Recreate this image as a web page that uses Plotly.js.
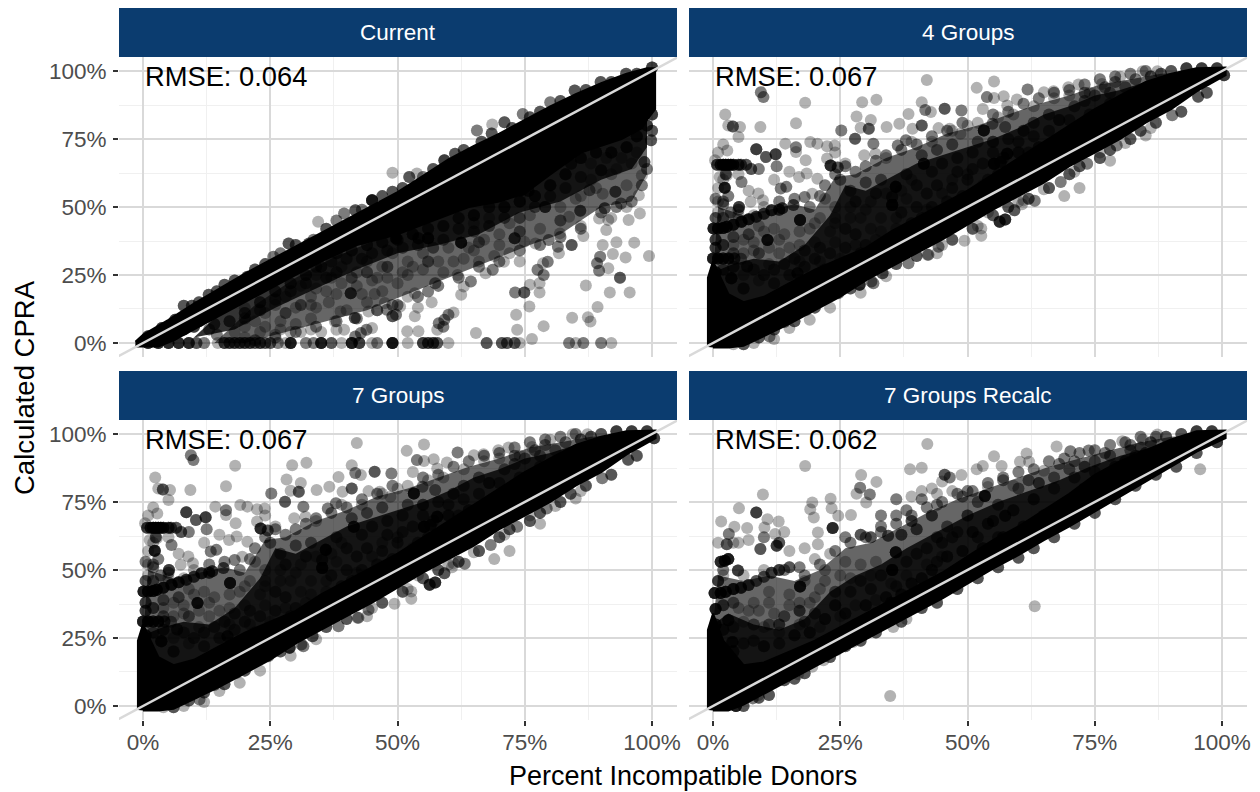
<!DOCTYPE html>
<html><head><meta charset="utf-8">
<script src="https://cdn.plot.ly/plotly-3.0.1.min.js"></script>
<style>html,body{margin:0;padding:0;background:#fff}</style></head>
<body><div id="chart" style="width:1260px;height:792px"></div>
<script>
// All values in percent. [x, y] or [x, y, overplot count].
const panelNames = ['Current','4 Groups','7 Groups','7 Groups Recalc'];
const rmseLabels = ['RMSE: 0.064','RMSE: 0.067','RMSE: 0.067','RMSE: 0.062'];
const tickVals = [0,25,50,75,100];
const tickLabels = ['0%','25%','50%','75%','100%'];
const minorVals = [12.5,37.5,62.5,87.5];
const identityLine = [-6,106];

// Where points overplot into solid black the mass is read as an outline; the haze outlines are the denser clouds
const currentCoreX = [-1.5,0,5,10,20,30,36,40,45,50,55,60,65,70,75,80,85,90,95,99,100.6,100.6,99,98,94,86,80,75,70,64,57,50,42,35,28,20,12,6,3,-1.5];
const currentCoreY = [0.5,3,8.5,14.5,25.5,35.5,41.5,45.5,50.5,55.5,61.5,67.5,72.5,77,82,87,91.5,95.5,99,101,101,86,82,79,75,70,62,55,52,50,45,40,36,30,23,15,7,1,-1.3,-1.3];
const currentHazeX = [10,18,26,34,42,48,56,62,70,78,86,92,99,99,96,90,82,74,66,58,50,42,34,26,18,10];
const currentHazeY = [2,16,25,32,38,42,47,52,55,62,70,75,82,72,64,60,52,48,40,36,33,27,20,13,5,2];
const currentLightX = [14,22,30,38,46,54,62,70,80,90,99,99,96,90,82,76,68,60,52,44,36,28,20,14];
const currentLightY = [0,14,24,32,38,44,50,55,64,74,82,62,52,50,40,36,30,24,18,12,8,4,0,0];
const groupCoreX = [-1,-1,0,1.5,3,6,10,15,20,25,30,35,40,45,50,55,60,65,70,75,80,85,90,95,100.7,100.7,95,90,85,80,75,70,65,60,55,50,45,40,35,30,25,20,15,10,6,3,0];
const groupCoreY = [-1.5,24,30,24,18,15,17,22,27,31,35,41,46,51,56,62,68,74,80,86,91,96,99,101,101.3,98.5,92.5,86,81,75,70,65,59,54,49,43.5,38,33,28,23,17,12,7,2.5,-1,-1.7,-1.7];
const groupHazeX = [0,4,8,13,18,23,26,30,35,40,45,50,55,60,65,70,75,80,85,90,100,90,70,50,30,10,0];
const groupHazeY = [26,29,31,30,36,47,58,56,61,66,69,72,75,79,84,87,91,93,96,99,100,92,72,52,32,12,0];
const groupLightX = [0,1,6,11,16,20,24,28,34,40,46,52,58,64,70,76,82,88,100,90,70,50,30,10,0];
const groupLightY = [25,50,47,49,51,49,61,62,68,72,77,80,84,88,91,95,97,99,100,92,72,52,32,12,0];
const recalcCoreX = [-1,-1,0,2,6,10,15,20,25,30,35,40,45,50,55,60,65,70,75,80,85,90,95,100.7,100.7,95,90,85,80,75,70,65,60,55,50,45,40,35,30,25,20,15,10,6,3,0];
const recalcCoreY = [-1.5,28,34,24,15,16,20,24,29,34,39,44,49,55,61,66,72,78,85,90,94,98,101,101.3,98.5,93.5,88,82.5,77,71.5,66,61,55.5,50.5,45,39.5,34.5,29.5,24.5,19.5,14.5,9.5,4.5,0.5,-1.7,-1.7];
const recalcHazeX = [0,3,8,13,18,23,28,33,38,43,50,56,62,68,74,80,86,92,100,90,70,50,30,10,0];
const recalcHazeY = [30,34,30,28,32,42,48,52,58,63,70,75,79,83,88,92,95,99,100,92,72,52,32,12,0];
const recalcLightX = [0,1,6,11,16,21,26,31,36,42,48,54,60,66,72,78,84,90,100,90,70,50,30,10,0];
const recalcLightY = [30,48,46,48,46,50,58,60,65,71,76,80,84,88,91,94,97,99,100,92,72,52,32,12,0];

const currentPts = [
[99.4,32],[94.8,31.4],[96.5,36.9],[93,37],[92.3,32.7],[90.3,36],[89.2,29.3,2],[89.8,31.7,2],[89.6,26.6,2],[91.4,27.5],[93.7,24,3],[91.7,18.6],[95.6,18.6],[89.3,13.2],[87,21.1],[84.3,9.3],[87.4,9.5],[87.9,7.9],[78.7,6.2],[75.9,13.4],[73.3,10.4],[73.5,4.9],[76.4,1.5],[65.4,3.7],[73.1,18.6,2],[74.9,18.6,3],[77.9,18.6],[76,21.4],[77.9,22],[78.7,25,2],[77.5,26.9,2],[78.6,29.3],[79.5,29.9,2],
[12,0,2],[14.7,0],[16,0,4],[17,0,4],[18,0,4],[19,0,4],[20,0,4],[21,0,4],[22,0,3],[23,0,4],[24,0,3],[25,0,3],[26.5,0,2],[28,0,1],[29,0,6],[32,0,2],[33.5,0,2],[35,0,6],[37,0,3],[39,0,1],[41,0,6],[42.5,0,4],[45,0],[46,0,2],[49,0,7],[52,0],[55,0,4],[56,0,4],[57,0,4],[57.8,0,3],[60,0],[67.5,0,3],[70.5,0,3],[71.5,0,3],[73,0,3],[74,0],[83.7,0,2],[85,0],[86.5,0,2],[90,0,2],[92,0],
[1,0,5],[3,0,5],[5,0,5],[7,0,5],[9,0,5],[10.5,0,3],[2,1,4],[4,2,4],[6,3,4],[8,5,4],[10,6,4],[11,8,3],[13,5,2],[14.5,3,2],
[59,6,2],[57.8,4.9],[58.1,7.3,2],[59.2,8.5,2],[60,10.4,2],[61,11.2],[41.7,2.4,2],[42.8,3.7,2],[43.9,4.9,2],[45,5.5],[38,4.9],[39.5,4.9],[47.9,12.2,2],[49,9.8,3],[49.7,10.4,2],[47.5,14.7],[49,14,2],[50.5,13.4],[53.4,9.8],[51.9,4.3],[54.1,4.3],[41.6,9.2,3],[38.8,11.6],[44.3,11.6],[37.7,7.9],
[53.4,18.3],[56,18.9,2],[56.7,15],[57.4,22,2],[62.5,17.7],[63,20.8],[64.4,22.6,2],[61.8,25],[67.3,25.6],[68.7,26.9,2],[70.9,29.9],
[56,38.5,5],[54.1,38.5,3],[49.7,38.5,4],[62.5,36.9,6],[73,38.5,4],[74.2,56.2,5],[75.7,56,4],[45,52.5,4],[79,50,4],[85.9,48.6,3],[40.8,18.3,4],[84.1,65.9,3],[90,63.5,3],[98.5,66.5,3],[99.8,74.5,3],[98,61.7],[97.4,54.3],[97.6,47.6],[95.4,45.2],[93.9,51.3,2],[92.8,55.6,3],[90.3,54.9],[90.7,49.5,3],[89.6,45.8],[91.4,45.2],[91,41.5],[87.7,56.2,2],[86,54],[83.7,46.4],[81.9,40.3],[79.7,37.9,2],[84.2,36,3],[81.5,35.4,2],[81.7,33],[86.5,39.3],[77.1,36.6],[74.9,37.2],[72,33],[70,36],[67,38],[65,34],[63,31],[60,35],[58,30],[55,33],[52,30],[49,33],[47,28],[44,30],[42,26],[39,28],[37,24],[34,25],[31,21],[28,17],[26,14],[24,11],[22,8],[20,6],[18,4],[27,8],[30,13],[33,17],[36,19],[39,22],[42,21],[45,23],[47,19],[50,22],[52,25],[55,27],[59,26],[61,30],[66,30],[69,32],[74,30],[30,7],[33,9],[34,13],[31,4],[26,3],[23,4],[20,2],[35,4],[45.5,18],[44,15],[52,17],[54,13],[65,44],[68,46],[72,44],[76,47],[70,40],[78,42],[82,50],[85,53],[88,60],[92,62],[95,58],[97,70],[96,66],[94,68],[91,68],[88,66],
[33,5],[36.5,15],[40,12],[48,24],[29.5,28.5],[26,26],[22,20],[20,13],
// upper edge of the band
[1,2.5,4],[3.7,5.5,4],[6.3,8.5,4],[8,13.7,3],[9.6,13.7,3],[11,15,3],[12.9,17.7,3],[14.5,19,3],[16,21.4,3],[18,23,3],[20.5,24.4,3],[22,27,3],[24,29,3],[25.6,31.7,2],[27,33,2],[28.6,36.6,3],[30,36,3],[32.6,36.6,3],[33.5,38,2],[34.4,44.6],[36,42,3],[38,45,2],[39.5,47.6,2],[41.7,48.8,3],[43,49,2],[45,52.5,3],[47,54,3],[49,55.6,3],[49,62.6],[51,57,3],[52.3,61,3],[53.8,62.3],[55,61,2],[57,64,3],[59.2,67.2,4],[61.3,69.6,3],[63,71,3],[65.6,78.1,2],[66.5,74,3],[68.6,80.3],[68.5,77,3],[71,81.2,3],[72.5,79,3],[74.6,84.2,2],[76,83,3],[78,85,3],[80,88.5,2],[82,89,3],[84.8,92.8,3],[87,93,3],[89.9,96,3],[92,96,3],[94.9,99,3],[97,99,3],[100,101.3,4],
// lower edge of the band and the cloud below it
[99,80,4],[100,84,4],[100,78,3],[97,76,4],[95,72,4],[92,70,4],[89,70,4],[86,68,4],[83,62,4],[80,58,4],[77,54,4],[74,52,4],[71,50,4],[68,50,3],[65,47,4],[62,46,3],[59,43,3],[56,42,3],[53,40,4],[50,38,3],[47,37,3],[44,36,3],[41,34,3],[38,33,3],[35,28,3],[32,25,3],[29,22,3],[26,19,3],[23,15,3],[20,11,3],[17,8,3],[14,7,3],
[93,64],[89,57],[86,61,2],[83,57,2],[80,54,2],[77,50,2],[74,46,2],[71,46,2],[68,43,2],[65,41,2],[62,42,2],[59,38,2],[57,35,2],[54,36,2],[51,35,2],[48,34,2],[45,33,2],[43,31,2],[40,31,2],[37,30,2],[34,28,2],[32,22,2],[29,19,2],[26,16,2],[23,12,2],[20,9,2],[36,24,2],[38,26,2],[41,24,2],[44,26,2],[46,24],[48,28,2],[51,26],[53,28],[56,30,2],[64,35],[66,37,2],[74,41,2],[82,45,2],[86,43],[92,46],[95,50],[24,6],[28,11,2],[31,14,2],[34,20],[38,18],[43,18],[46,12],[29,4],[27,5],[33,14],
// outer rim of the cloud
[96,52,2],[93,50,2],[90,48,2],[86,42,2],[82,39,2],[78,36,2],[74,34,2],[70,30,2],[66,28,2],[62,24,2],[58,21,2],[54,17,2],[50,14,2],[46,12,2],[42,9,2],[38,8,2],[34,6,2],[30,4,2],[26,2,2],[22,1,2],[98,58,2],[99,64,2]
];
const fourGroupsPts = [
[42,96.7],[55.2,96.1],[51.8,93.8],[53.8,90.4,2],[55.2,90.1],[57.1,90.7],[57.8,87.3],[59.7,89.5],[61.8,93.2,2],[65,92.2],[66.9,92.6],[69.8,94],[71.8,95],[76.4,95.2],[80,97.9],[84.4,99.9],[87.3,99.9],[9.4,92.2,2],[9.9,90.4,2],[18.1,88.3],[29.3,88.5],[32.1,89.4],[41,88.5],[2.4,84],[16.3,80.8],[9.3,79.4],[3.9,79.6,3],[5.3,79.4],[5,75.7],[28.2,83.3],[31,82],[38.4,84.2],[41.7,85.7,2],[42.8,84.9],[45.5,86.1,3],[48.8,85.5,2],[53,86],[25.2,78.1,2],[29,79.1],[30.6,78.8,3],[34.1,79.4],[36.6,80.6],[39.2,78.8],[41,80,3],[44.3,79],[46.5,78.8],[48.6,76.9],[53.2,78.1,6],[56,83],[54.9,80.6,2],[57.4,79.4,2],
[19.1,73.9],[20.5,73.3],[22.4,72.3],[23.9,72.6],[14.2,73.3],[16.3,72,2],[16.3,70.2],[27.9,75.1,3],[31.5,73.3,2],[29.7,69],[31.9,69.6],[36.3,72.6,2],[37.9,74.5,2],[2.8,70.8],[8.5,71.2,4],[12.3,69.4,4],[10.4,68.4,3],[0.4,67.2],[12.5,65,2],[18.2,67.2],[22.4,67.8],
[0.8,65.5,4],[1.5,65.5,5],[2,65.5,6],[2.5,65.5,6],[3,65.5,6],[3.5,65.5,5],[4,65.5,5],[5,65.5,4],[5.5,65.5,3],[6.5,65.5,3],[7.5,64,3],[9,64,2],[2.5,62,3],[1.3,61],
[2.3,57.1,6],[5.1,50,4],[2.7,61.7],[5.6,59.2,2],[8.9,55],[7.4,51.9],[9.8,52.5],[13.3,56.8,2],[14.4,57.4,2],[16.9,61],[18.4,62.3],[20.5,60.4],[18,53.7,2],[19.5,54.9],[23.1,65.3,5],[24.5,64.5,3],[3,54,2],[1,52],[3.5,48,2],[1,48],
[17.1,45.2,6],[10.7,37.9,6],[3.6,23.8,5],[0.5,22.6,5],[6.7,28.1,3],[16.6,25.6,4],
[0.1,42.1,6],[1,42.1,6],[2,42.3,6],[2.7,42.7,6],[4,43.5,6],[5.6,44.6,6],[7,45.5,5],[8.5,46.4,4],[10,47.5,4],[11.5,48.8,5],[13,49,4],[13.6,49.5,4],[15.8,50.7,3],
[0,31.1,6],[1,31.1,6],[2,31.1,5],[3,31.1,5],[4.2,31.1,4],[5.5,31,2],
[35.9,57.4,6],[35.2,53.7,3],[35.2,50.7,6],[55.2,65.9,6],[56.5,66.5,4],[57.8,69.6,5],[41.4,65.9,5],[28.8,21.4,5],[56.3,44.6,5],[57.4,45.4,5],[59.2,48.8,3],[60.7,51],[52.7,42.1],[42.1,32.4],[38.4,29.3],[11.1,2.4],[31.1,22.6,2],[85,76.3],[69,54],[72,57],[78,67],
[25,60,2],[27,56,2],[30,59,2],[28,52,2],[32,55,2],[33,60,2],[38,62,2],[40,58,2],[43,63,2],[45,66,2],[48,68,2],[51,70,2],[44,71,2],[41,69,2],[47,73,2],[52,74,2],[55,74,3],[58,75,2],[61,78,3],[63,81,2],[66,84,2],[68,82,3],[71,87,2],[73,89,2],[75,91,2],[78,92,2],[69,76,2],[64,72,3],[60,70,3],
[22,53],[24,50],[21,46],[24,44],[27,46],[30,49],[33,46],[36,46],[38,53],[42,49],[45,55],[47,60],[50,62],[53,58],[48,50],[40,41],[36,37],[32,38],[28,36],[24,37],[20,37],[17,36],[14,40],[12,42],[9,43],[6,38],[8,34],[4,36],[13,33],[17,30],[21,30],[25,31],[11,29],[6,25],[19,24],[9,23],
[3,80],[2,73],[1,70],[2,60],[5,62],[1,57],[7,56],[12,60],[15,63],[24,70],[34,68],[26,66],[39,74],[43,74],[47,78],[50,80],[59,84],[63,87],[67,90],[70,91],[74,92],
[60,52],[54,48],[46,41],[34,24.5],[29,18.5],[23,13],[19,8.5],[15,5.5],[12,1.5],[8,0],[4,-0.5],[45,36],[44,33],[52,43],[61,52.5],[65,56.5],[71,63],[76,70],[81,73.5],[86,79],
// lower edge and top right envelope
[11.1,2.4],[14,7.7,2],[18.4,12.2,2],[22.4,17.1,2],[24.6,18.3,2],[31.5,22,2],[33.3,25.6,3],[38.4,29.3],[42.3,32.4,2],[44.3,35.4,2],[49.4,37.6],[52.7,39.4],[63.2,52.3,2],[68.3,59.2,2],[73.5,65.9,2],[79.3,72.6,2],[90.2,83.7,2],[95.3,90.5,3],[100.4,98.4,4],
[6,-0.5,3],[9,2,3],[12,5,3],[16,8,3],[20,13,3],[27,20,3],[29,24,3],[36,29,3],[40,32,3],[47,38,3],[51,42,3],[55,47,3],[58,50,3],[62,53,3],[66,57,3],[70,62,3],[72,65,3],[76,68,3],[78,71,3],[82,75,3],[84,78,3],[87,81,3],[92,85,3],[97,92,3],
[81,94,2],[83,97,2],[86,98,3],[88,99,3],[90,100,3],[93,101,4],[96,101,4],[99,101,4],[77,94,2],[79,96,2],[73,92,2],
// cloud
[0.5,8,5],[0.5,12,5],[0.5,16,5],[0.5,20,5],[0.5,26,5],[0.5,35,4],[0.5,38,4],[0.5,46,3],[0.5,53,2],[2,27,3],[2,36,3],[2,46,2],[2,52,2],[4,28,3],[4,33,2],[4,39,2],[5,47],[6,20,3],[6,33],[7,40,2],[8,27,2],[8,37],[9,33,2],[10,25,2],[10,41],[11,35],[12,22,2],[12,27,2],[13,38],[14,29,2],[15,35],[15,25,2],[16,31,2],[17,41],[18,28,2],[18,34,2],[19,42],[20,31,2],[20,44],[21,35,2],[22,27,2],[23,33,2],[23,41],[24,46],[25,28,2],[26,35,2],[26,42,2],[27,50],[27,30,2],[28,40,2],[29,33,2],[29,46],[30,36,2],[31,42],[31,52],[32,30,2],[33,34,2],[33,41],[34,55],[35,38,2],[36,42],[37,48,2],[37,56],[38,40,2],[39,44,2],[39,60],[40,50,2],[41,46,2],[42,55,2],[43,50,2],[44,58,2],[46,52,2],[47,57,2],[48,63,2],[49,54,2],[50,60,2],[51,64,2],[52,56,2],[53,66,2],[54,60,2],[55,70,2],[56,62,2],[57,68,2],[59,64,2],[60,74,2],[62,70,2],[63,76,2],[65,70,2],[66,78,2],[68,74,2],[70,82,2],[72,78,2],[74,84,2],[76,82,2],[78,88,2],[80,86,2],[82,90,2],[84,92,2],[86,92,2],
// outer rim of the cloud
[2,51,2],[5,49,2],[8,47],[10,50],[13,52,2],[16,53,2],[19,50,2],[21,54,2],[22,58,2],[24,62,2],[26,65,2],[28,63,2],[30,65,2],[32,67,2],[34,69,2],[37,71,2],[40,73,2],[43,76,2],[46,78,2],[49,81,2],[52,81],[55,84,2],[58,85,2],[61,88,2],[64,90,2],[67,92,2],[70,93,2],[73,95,2],[76,97,2],[79,98,2],[82,99,2],[85,100,2]
];
const sevenGroupsPts = fourGroupsPts.slice();
const recalcPts = [
[42.1,96.3],[67.5,95.4],[70.2,93.7,2],[73.8,93.9,2],[80.4,97.3],[87.3,99.8],[84.4,98],[61.6,92.8],[60.3,89.8],[62.1,89.8],[55.2,91.8],[56.7,88.2],[53,88.2],[51.8,87],[41,87.6],[38.7,87],[18.1,88.2],[29.1,84.9],[32.1,82.4],[28.9,80.2,2],[28.2,78],[30.8,77.8,2],[30.1,74.8],[9.8,77.8],[5.1,72.7],[8.5,71.1,4],[19.5,74.8],[19.1,72.3],[23.1,76.2],[23.3,72.7],[19.8,69.3],[1.6,67.8],[4.2,65.9],[6.7,65.4],[10.7,68.7],[10.1,65.6],[12.9,67.8],[14,64],[12.2,63.2],[3.1,63.2,2],[2.7,59.5,3],[20.6,63.8],[20.6,59.5],[24.6,69.9],[27.1,70.2],[23.5,65.4,5],[63.2,36.7],[34.8,3.7],[95.7,87],[4.5,0,6],[7.8,2.8,2],[8.9,4],[14,9.5,3],[16.7,11.7],[19.5,14.4],[21.7,16.8],[24.2,20.5],[27.5,23.5],[35.4,29],[38,32],[34.8,31.5,4],
[2.3,53.4,6],[3,54,6],[1.5,53,5],[4.9,49.8,4],[0.5,35.7,6],[0.5,24,6],[3.8,23.5,4],[3,31.5,4],[17.1,43.9,6],[35.9,56.5,6],[35.2,50,6],[53.4,77.2,6],[57.4,69.9,4],[34.4,62.6,3],[12.5,58.9,4],[9.3,57.7,3],
[0.3,41.5,6],[1.5,41.5,6],[2.5,42,6],[4,43,6],[5.5,43.5,5],[7,44.5,4],[8.5,46,3],[10,47.5,3],[11.5,49,4],[13,50,4],[15,51,3],[17,51,2],
[45.5,85,3],[46.5,84,2],[48.8,84.9],[45,82.5],[50,79,2],[54,80.5],[57,84,2],[59,81],[62,83,2],[65,86.5],[68,89,2],[71,90,2],[77,93,2],[82,96,2],[39,77],[41,79],[43,80],[44,78],[47,79],[36,76,2],[38,72,2],[41,76,2],[44,74,2],[49,77,2],[52,75,2],[56,74,2],[60,80,2],[64,82,3],[67,84,2],[70,87,2],[73,88,3],
[33,70,2],[36,70,2],[39,68,3],[43,70,3],[46,66,2],[50,70,3],[54,67,3],[26,62,2],[29,63,3],[31,62,3],[33,66,2],[37,63,3],[40,65,3],[44,62,2],[48,64,2],[52,62,2],[56,62,2],
[5,60],[7,61],[10,62,2],[13,60,3],[15,57],[18,58],[20,54],[23,56],[26,53],[29,52],[32,53],[27,47],[31,48],[35,45],[38,48],[42,52],[45,55],[22,50],[18,46],[21,43],[11,42],[8,38],[5,36],[12,34],[15,37],[19,38],[6,31],[10,29],[13,27],[17,30],[21,29],[25,33],[28,37],[32,39],[4,60],[1,60],[2,48],[1,46],[17,35,3],[13,30,3],[8,30,2],
// lower edge and top right envelope
[6,0,3],[9,3,3],[11,4,3],[16,10,3],[18,12,3],[23,18,3],[26,22,3],[29,24,3],[32,27,3],[37,31,3],[41,36,3],[44,38,3],[48,43,3],[52,47,3],[56,51,3],[60,54.5,3],[63,58,3],[67,62,3],[71,67,3],[75,71,3],[79,76,3],[83,81,3],[87,85,3],[91,88,3],[95,93,3],[99,97,4],
[82,94,2],[84,95,2],[86,97,3],[89,99,3],[92,100,3],[95,101,4],[98,101,4],[78,92,2],[75,90,2],
// cloud
[0.5,6,5],[0.5,10,5],[0.5,15,5],[0.5,20,5],[0.5,30,5],[1,46,3],[2,18,3],[2,28,3],[2,37,3],[4,20,3],[4,29,2],[4,38,2],[6,23,2],[7,35],[8,24,2],[9,35],[10,22,3],[11,30,2],[11,38],[13,23,2],[14,33,2],[15,41],[16,26,3],[17,38],[18,31,2],[19,27,3],[20,34,2],[20,40],[22,32,3],[22,46],[24,37,3],[24,42,2],[25,48],[26,34,3],[27,42,2],[28,30,3],[29,46,2],[30,37,3],[31,43,2],[32,34,3],[33,48,2],[34,40,3],[35,38,3],[36,44,2],[37,41,3],[38,53,2],[39,45,3],[40,56,2],[41,47,3],[42,58,2],[43,50,3],[44,53,2],[45,60,2],[46,55,3],[47,62,2],[49,57,3],[51,64,3],[53,58,3],[55,68,3],[57,62,3],[59,72,3],[61,66,3],[63,76,3],[65,70,3],[67,80,2],[69,74,3],[71,84,2],[73,80,3],[75,86,2],[77,84,3],[79,88,3],[81,90,3],[83,92,3],[85,93,3],
// outer rim of the cloud
[2,50,2],[6,48],[10,50],[14,50,2],[18,48,2],[21,52,2],[24,57,2],[27,60,2],[30,62,2],[33,64,2],[36,67,2],[39,70,2],[42,73,2],[45,75,2],[48,78,2],[51,79,2],[54,82,2],[57,83,2],[60,86,2],[63,87,2],[66,90,2],[69,91,2],[72,93,2],[75,94,2],[78,96,2],[81,97,2],[84,99,2],[87,99,2]
];

const expand = pts => pts.flatMap(p => Array(p[2] || 1).fill(p));
const allPts = [currentPts, fourGroupsPts, sevenGroupsPts, recalcPts];
const coreX = [currentCoreX, groupCoreX, groupCoreX, recalcCoreX];
const coreY = [currentCoreY, groupCoreY, groupCoreY, recalcCoreY];
const hazeX = [currentHazeX, groupHazeX, groupHazeX, recalcHazeX];
const hazeY = [currentHazeY, groupHazeY, groupHazeY, recalcHazeY];
const lightX = [currentLightX, groupLightX, groupLightX, recalcLightX];
const lightY = [currentLightY, groupLightY, groupLightY, recalcLightY];

const W = 1260, H = 792;
const colL = [119, 689], colW = 558;
const rowTop = [57, 420], rowH = 300;
const stripTop = [8, 371], stripH = 49;
const gridC = '#d9d9d9', minorC = '#f0f0f0', tickC = '#4d4d4d';
const fam = '"Liberation Sans", Arial, sans-serif';

const data = [], layout = {
  width: W, height: H, margin: {l:0,r:0,t:0,b:0}, paper_bgcolor:'#fff', plot_bgcolor:'#fff',
  showlegend:false, shapes:[], annotations:[], hovermode:false, font:{family:fam}
};
panelNames.forEach((name, i) => {
  const c = i % 2, r = Math.floor(i / 2), n = i ? i + 1 : '';
  const xa = 'xaxis' + n, ya = 'yaxis' + n, xr = 'x' + n, yr = 'y' + n;
  layout[xa] = {
    domain:[colL[c]/W,(colL[c]+colW)/W], range:[-4.72,104.9], anchor:yr, zeroline:false, fixedrange:true,
    tickmode:'array', tickvals:tickVals, ticktext:r===1?tickLabels:tickVals.map(()=>''),
    ticks:r===1?'outside':'', ticklen:5, tickwidth:2, tickcolor:'#333', tickfont:{size:22.5,color:tickC,family:fam},
    ticklabelstandoff:-3, showgrid:true, gridcolor:gridC, gridwidth:2, showline:false,
    minor:{tickvals:minorVals, showgrid:true, gridcolor:minorC, gridwidth:1, ticks:''}
  };
  layout[ya] = {
    domain:[1-(rowTop[r]+rowH)/H,1-rowTop[r]/H], range:[-5.15,105.15], anchor:xr, zeroline:false, fixedrange:true,
    tickmode:'array', tickvals:tickVals, ticktext:c===0?tickLabels:tickVals.map(()=>''),
    ticks:c===0?'outside':'', ticklen:5, tickwidth:2, tickcolor:'#333', tickfont:{size:22.5,color:tickC,family:fam},
    ticklabelstandoff:2, showgrid:true, gridcolor:gridC, gridwidth:2, showline:false,
    minor:{tickvals:minorVals, showgrid:true, gridcolor:minorC, gridwidth:1, ticks:''}
  };
  data.push({type:'scatter',mode:'lines',x:lightX[i],y:lightY[i],xaxis:xr,yaxis:yr,fill:'toself',fillcolor:'rgba(0,0,0,0.6)',line:{width:0},hoverinfo:'skip'});
  data.push({type:'scatter',mode:'lines',x:hazeX[i],y:hazeY[i],xaxis:xr,yaxis:yr,fill:'toself',fillcolor:'rgba(0,0,0,0.8)',line:{width:0},hoverinfo:'skip'});
  const pts = expand(allPts[i]);
  data.push({type:'scatter',mode:'markers',x:pts.map(p=>p[0]),y:pts.map(p=>p[1]),xaxis:xr,yaxis:yr,
    marker:{size:12,color:'rgba(0,0,0,0.3)',line:{width:0}},hoverinfo:'skip'});
  data.push({type:'scatter',mode:'lines',x:coreX[i],y:coreY[i],xaxis:xr,yaxis:yr,fill:'toself',fillcolor:'#000',line:{width:2,color:'#000'},hoverinfo:'skip'});
  data.push({type:'scatter',mode:'lines',x:identityLine,y:identityLine,xaxis:xr,yaxis:yr,line:{color:gridC,width:2.5},hoverinfo:'skip'});
  layout.shapes.push({type:'rect',xref:'paper',yref:'paper',x0:colL[c]/W,x1:(colL[c]+colW)/W,y0:1-(stripTop[r]+stripH)/H,y1:1-stripTop[r]/H,fillcolor:'#0b3c6f',line:{width:0},layer:'above'});
  layout.annotations.push({xref:'paper',yref:'paper',x:(colL[c]+colW/2)/W,y:1-(stripTop[r]+stripH/2)/H,text:name,showarrow:false,xanchor:'center',yanchor:'middle',font:{size:22.5,color:'#fff',family:fam}});
  layout.annotations.push({xref:xr,yref:yr,x:0,y:98,text:rmseLabels[i],showarrow:false,xanchor:'left',yanchor:'middle',xshift:0,font:{size:27.3,color:'#000',family:fam}});
});
layout.annotations.push({xref:'paper',yref:'paper',x:683/W,y:1-776/H,text:'Percent Incompatible Donors',showarrow:false,xanchor:'center',yanchor:'middle',font:{size:27,color:'#000',family:fam}});
layout.annotations.push({xref:'paper',yref:'paper',x:25/W,y:1-388/H,text:'Calculated CPRA',textangle:-90,showarrow:false,xanchor:'center',yanchor:'middle',font:{size:27.5,color:'#000',family:fam}});
Plotly.newPlot('chart', data, layout, {displayModeBar:false, staticPlot:true});
</script></body></html>
